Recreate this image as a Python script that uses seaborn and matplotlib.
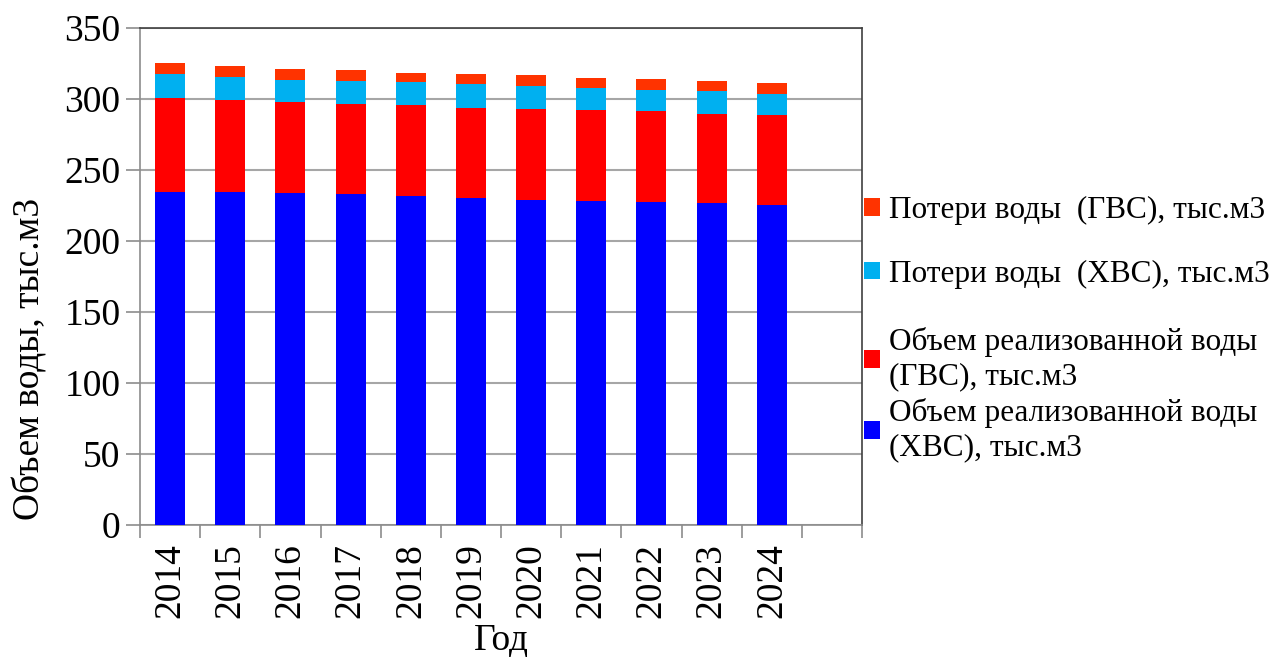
import matplotlib
matplotlib.use("Agg")
import matplotlib.pyplot as plt
import seaborn as sns
import pandas as pd
import numpy as np
from matplotlib.patches import Patch

years = ["2014", "2015", "2016", "2017", "2018", "2019", "2020", "2021", "2022", "2023", "2024"]
sold_hvs = [234.4, 234.7, 233.5, 232.8, 231.9, 230.2, 229.1, 228.4, 227.4, 226.5, 225.6]
sold_gvs = [66.3, 64.8, 64.1, 63.9, 63.9, 63.7, 64.1, 63.9, 63.9, 63.2, 62.9]
loss_hvs = [16.6, 16.1, 16.0, 16.2, 16.1, 16.4, 16.1, 15.1, 15.2, 16.1, 15.2]
loss_gvs = [8.0, 7.3, 7.4, 7.2, 6.4, 7.0, 7.3, 7.3, 7.3, 7.1, 7.5]

labels = [
    "Объем реализованной воды\n(ХВС), тыс.м3",
    "Объем реализованной воды\n(ГВС), тыс.м3",
    "Потери воды  (ХВС), тыс.м3",
    "Потери воды  (ГВС), тыс.м3",
]
colors = ["#0000FF", "#FF0000", "#00B0F0", "#FF3300"]

sns.set_theme(style="white")
plt.rcParams['font.family'] = ['Liberation Serif', 'DejaVu Serif']
plt.rcParams['text.color'] = 'black'
plt.rcParams['axes.labelcolor'] = 'black'
plt.rcParams['xtick.color'] = 'black'
plt.rcParams['ytick.color'] = 'black'

fig = plt.figure(figsize=(12.74, 6.57), dpi=100)
ax = fig.add_axes([140/1274, 1-525/657, (862-140)/1274, (525-28)/657])

series = [sold_hvs, sold_gvs, loss_hvs, loss_gvs]
bottom = np.zeros(len(years))
for vals, col in zip(series, colors):
    d = pd.DataFrame({"year": years, "v": vals})
    sns.barplot(data=d, x="year", y="v", order=years, color=col, width=0.5,
                bottom=bottom, ax=ax, saturation=1, zorder=3, linewidth=0)
    bottom = bottom + np.array(vals)

ax.set_xlim(-0.5, 11.5)
ax.set_ylim(0, 350)
ax.set_yticks(np.arange(0, 351, 50))
ax.yaxis.grid(True, color="#a6a6a6", linewidth=1.5, zorder=0)
ax.set_axisbelow(True)
for s in ax.spines.values():
    s.set_color("#8c8c8c")
    s.set_linewidth(1.2)
ax.spines['top'].set_color("#404040")
ax.spines['right'].set_color("#404040")

ax.set_xticks(range(len(years)))
ax.set_xticklabels(years, rotation=90, fontsize=27)
ax.set_xticks(np.arange(-0.5, 12, 1), minor=True)
ax.tick_params(axis='x', which='major', length=0, pad=13)
ax.tick_params(axis='x', which='minor', length=9, width=1.2, color="#8c8c8c", direction='out', bottom=True)
ax.tick_params(axis='y', which='major', length=10, width=1.2, color="#8c8c8c", direction='out', left=True, labelsize=27, pad=4)

ax.set_xlabel("Год", fontsize=27)
ax.xaxis.set_label_coords(0.5, -0.197)
ax.set_ylabel("Объем воды, тыс.м3", fontsize=27)
ax.yaxis.set_label_coords(-0.128, 0.334)

handles = [Patch(facecolor=c, edgecolor='none') for c in colors[::-1]]
lab = labels[::-1]
common = dict(frameon=False, fontsize=22.5, handlelength=0.5, handleheight=0.5,
              handletextpad=0.3, borderpad=0, borderaxespad=0)
leg1 = fig.legend(handles[:2], lab[:2], loc='upper left',
                  bbox_to_anchor=(864/1274, 1-196/657), labelspacing=1.1, **common)
leg2 = fig.legend(handles[2:], lab[2:], loc='upper left',
                  bbox_to_anchor=(864/1274, 1-327/657), labelspacing=0.2, **common)
for lg in (leg1, leg2):
    for t in lg.get_texts():
        t.set_linespacing(1.25)

fig.savefig("out.png", dpi=100)
